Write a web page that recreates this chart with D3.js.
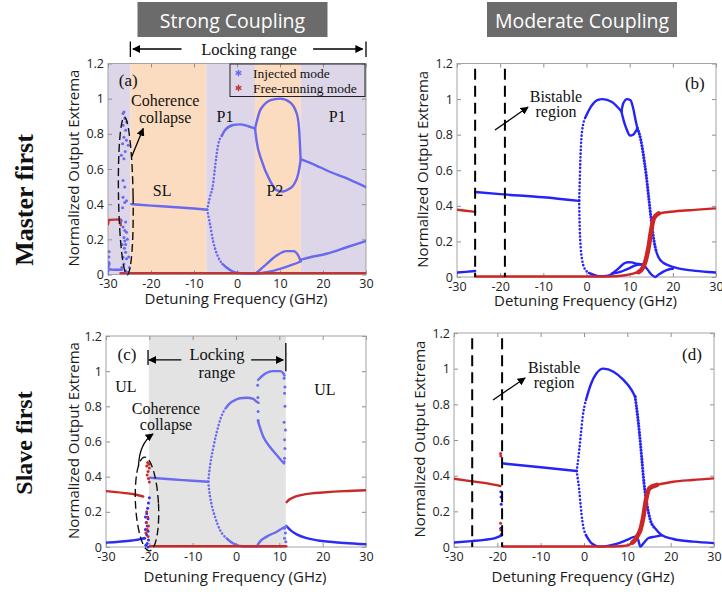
<!DOCTYPE html>
<html>
<head>
<meta charset="utf-8">
<script src="https://cdn.jsdelivr.net/npm/d3@7"></script>
<style>
  body { margin: 0; background: #fff; }
  .serif { font-family: "Liberation Serif", "Times New Roman", serif; fill: #111; }
  .sans { font-family: "Open Sans", "Noto Sans", sans-serif; fill: #1a1a1a; }
</style>
</head>
<body>
<div id="fig"></div>
<script>
(function() {
  'use strict';

  const xTicks = [-30, -20, -10, 0, 10, 20, 30];
  const yTicks = [0, 0.2, 0.4, 0.6, 0.8, 1, 1.2];

  // ---- (a) strong coupling, master first ----
  const aBandEdges = [-30, -24.8, -7.1, 4.2, 14.8, 30];
  const aInjLeft = [[-29.7,0.03],[-29,0.028],[-28,0.027],[-26.8,0.027]];
  const aInjSpike = [[-30.1,0.0],[-30,0.02],[-29.9,0.045],[-29.85,0.07],[-29.8,0.1],[-29.75,0.13],[-29.7,0.06]];
  const aInjCC = [[-26.5,0.915],[-26.3,0.924],[-26.1,0.887],[-25.7,0.867],[-26.5,0.849],[-25.9,0.82],
    [-26.3,0.78],[-25.7,0.763],[-26.6,0.744],[-25.3,0.735],[-26.0,0.70],[-26.9,0.678],[-26.3,0.659],
    [-26.5,0.535],[-26.1,0.497],[-26.5,0.44],[-25.7,0.42],[-26.1,0.41],[-26.6,0.38],[-25.9,0.298],
    [-26.9,0.307],[-26.5,0.27],[-26.1,0.25],[-25.7,0.24],[-26.3,0.21],[-25.5,0.2],[-26.1,0.19],
    [-25.9,0.17],[-26.7,0.17],[-26.2,0.15],[-25.9,0.127],[-26.5,0.098],[-25.7,0.09],[-25.2,0.1],
    [-26.3,0.06],[-25.9,0.02],[-25.3,0.013],[-25.0,0.04],[-26.8,0.04]];
  const aInjSL = [[-24.6,0.4],[-20,0.392],[-15,0.384],[-10,0.375],[-8,0.371],[-6.95,0.368]];
  const aInjUpFlank = [[-6.95,0.368],[-6.3,0.44],[-5.55,0.516],[-5.16,0.6],[-4.4,0.735],[-3.5,0.79]];
  const aInjUp = [[-3.5,0.79],[-2.8,0.82],[-0.9,0.85],[0.7,0.854],[2.6,0.843],[3.6,0.835],[4.2,0.83]];
  const aP2UpTop = [[4.2,0.83],[5.3,0.93],[6.3,0.965],[7.65,0.99],[10,1.0],[12.3,0.98],[13.9,0.915],[14.4,0.84],[14.6,0.76],[14.8,0.65]];
  const aP2UpBot = [[4.2,0.83],[4.55,0.76],[5.7,0.65],[7.65,0.535],[9.2,0.48],[10.75,0.472],[12,0.485],[13.1,0.507],[14.25,0.573],[14.8,0.65]];
  const aInjUpRight = [[14.9,0.655],[17,0.635],[19.3,0.61],[22,0.58],[24.7,0.555],[27.5,0.525],[30,0.497]];
  const aInjLowFlank = [[-6.95,0.368],[-6.3,0.29],[-5.55,0.19],[-4.4,0.1],[-3.4,0.06]];
  const aInjLow = [[-3.4,0.06],[-2.44,0.04],[-1.2,0.02],[-0.1,0.01],[2,0.005],[4.2,0.004]];
  const aP2LowTop = [[4.2,0.004],[5.5,0.03],[6.9,0.06],[9.2,0.108],[11.5,0.133],[13.1,0.133],[14.25,0.108],[14.8,0.075]];
  const aP2LowBot = [[4.2,0.004],[6.9,0.013],[10,0.032],[12.3,0.051],[14.25,0.068],[14.8,0.075]];
  const aInjLowRight = [[14.9,0.085],[17,0.098],[20.8,0.118],[25.5,0.155],[30,0.19]];
  const aFreeLeft = [[-30,0.285],[-29.8,0.31],[-28.5,0.312],[-27.1,0.313],[-27.05,0.28]];
  const aFreeBottom = [[-27.1,0.008],[30,0.008]];

  // ---- (b) moderate coupling, master first ----
  const bInjLeft = [[-30,0.025],[-28,0.029],[-25.8,0.034]];
  const bInjSS = [[-25.8,0.478],[-20,0.466],[-10,0.448],[-1.7,0.428]];
  const bInjUpFlank = [[-1.7,0.43],[-1.55,0.544],[-1.45,0.638],[-1.3,0.73],[-1.0,0.825],[-0.2,0.9]];
  const bInjUp = [[-0.2,0.9],[1.0,0.956],[2.5,0.994],[3.7,1.0],[5.9,0.984],[7.5,0.947],[8.1,0.93]];
  const bBumpTop = [[8.1,0.93],[8.5,0.975],[9.4,1.0],[10.2,0.994],[10.8,0.95],[11.3,0.89],[11.8,0.835]];
  const bBumpBot = [[8.1,0.93],[8.6,0.88],[9.3,0.83],[10.1,0.795],[10.8,0.8],[11.8,0.835]];
  const bInjDrop = [[11.8,0.835],[12.5,0.78],[12.9,0.73],[13.4,0.65],[13.8,0.58],[14.4,0.45],[15.0,0.32],[15.6,0.21],[16.2,0.14]];
  const bInjTail = [[16.2,0.14],[16.7,0.11],[17.8,0.08],[19,0.065],[21,0.05],[24.4,0.037],[28.2,0.028],[30,0.025]];
  const bInjLowFlank = [[-1.7,0.43],[-1.65,0.357],[-1.55,0.263],[-1.35,0.169],[-1.0,0.094],[-0.6,0.056],[0.55,0.023]];
  const bInjLow = [[0.55,0.023],[2.9,0.005],[5,0.008],[6,0.02]];
  const bLoopTop = [[6,0.02],[7.5,0.05],[8.6,0.075],[9.6,0.083],[10.5,0.082],[11.5,0.075],[12.5,0.072],[13.3,0.068]];
  const bLoopBot = [[6,0.02],[8,0.03],[9,0.04],[10,0.05],[11,0.062],[12.5,0.07],[13.3,0.068]];
  const bDip = [[13.3,0.068],[14.2,0.04],[15,0.015],[15.9,0.0],[16.8,0.015],[17.8,0.03],[19,0.042],[20,0.046]];
  const bFreeLeft = [[-30,0.378],[-28,0.372],[-25.8,0.366]];
  const bFreeMain = [[-25.8,0.003],[-10,0.003],[5,0.003],[9,0.01],[11,0.02],[12.1,0.028]];
  const bFreeRise = [[12.1,0.028],[13,0.05],[13.6,0.084],[14.4,0.17],[15,0.263],[15.6,0.33],[16.7,0.357]];
  const bFreeRight = [[16.7,0.357],[19,0.365],[22,0.372],[25,0.377],[30,0.386]];

  // ---- (c) strong coupling, slave first ----
  const cBand = [-20.1, 11.5];
  const cInjLeft = [[-30,0.025],[-27,0.03],[-24,0.037],[-22,0.045],[-21.2,0.05]];
  const cFreeLeft = [[-30,0.318],[-26,0.308],[-23,0.297],[-21.4,0.287]];
  const cInjCC = [[-20.0,0.28],[-20.2,0.25],[-20.4,0.22],[-20.6,0.19],[-20.9,0.17],[-20.3,0.16],
    [-20.7,0.14],[-20.5,0.12],[-20.9,0.1],[-20.3,0.09],[-20.6,0.07],[-21.1,0.05],[-20.2,0.04],
    [-20.5,0.02],[-20.8,0.01],[-20.3,0.0]];
  const cFreeCC = [[-20.4,0.48],[-20.1,0.47],[-20.6,0.46],[-20.0,0.45],[-20.3,0.43],[-20.5,0.41],
    [-20.2,0.39],[-20.0,0.37],[-20.6,0.2],[-20.4,0.17],[-20.7,0.14],[-20.2,0.12],[-20.5,0.1],
    [-20.8,0.08],[-20.3,0.06]];
  const cInjSL = [[-19.8,0.394],[-15,0.385],[-10,0.377],[-6.4,0.371]];
  const cInjUpFlank = [[-6.4,0.371],[-6.2,0.42],[-5.9,0.476],[-5.2,0.57],[-4.5,0.647],[-3.4,0.741],[-2.2,0.795]];
  const cInjUp = [[-2.2,0.795],[-1.45,0.817],[0,0.838],[0.9,0.846],[2.5,0.849],[4,0.842],[4.8,0.826],[5.2,0.82]];
  const cInjJump = [[5.0,0.92],[5.05,0.85],[5.1,0.77],[5.1,0.72]];
  const cLoopTop = [[5.1,0.95],[6.3,0.978],[8.6,1.0],[10.2,1.0],[10.9,0.988],[11.2,0.975]];
  const cLoopBot = [[5.1,0.713],[6.3,0.627],[7.8,0.57],[9.4,0.523],[10.7,0.485],[11.1,0.475]];
  const cInjEdge = [[11.1,0.96],[11.3,0.91],[11.2,0.875],[11.3,0.8],[11.1,0.71],[11.4,0.665],[11.2,0.61],
    [11.3,0.56],[11.2,0.505],[11.1,0.485],[11.2,0.106],[11.4,0.08],[11.2,0.05],[11.5,0.03],[11.6,0.12]];
  const cInjLowFlank = [[-6.4,0.371],[-6.2,0.324],[-5.7,0.249],[-4.85,0.172],[-3.7,0.097],[-2.15,0.049]];
  const cInjLow = [[-2.15,0.049],[-1,0.025],[0.15,0.011],[1.5,0.004],[3.2,0.002],[5,0.004],[8,0.004],[11.3,0.005]];
  const cLowRise = [[4.8,0.004],[5.5,0.03],[7.1,0.059],[9.4,0.087],[11.1,0.112]];
  const cInjRight = [[11.8,0.115],[12.5,0.097],[14,0.072],[16.3,0.05],[19,0.037],[21.7,0.03],[25,0.023],[30,0.016]];
  const cFreeMid = [[-19.8,0.004],[11.6,0.004]];
  const cFreeRight = [[11.7,0.255],[12.3,0.27],[13.5,0.285],[15,0.295],[17.5,0.305],[20,0.31],[25,0.318],[30,0.323]];

  // ---- (d) moderate coupling, slave first ----
  const bistableEdges = [-25.8, -18.9];
  const dInjLeft = [[-30,0.025],[-26,0.033],[-23,0.04],[-20.5,0.05],[-19.2,0.062]];
  const dFreeLeft = [[-30,0.383],[-25.8,0.368],[-22,0.355],[-19.3,0.342]];
  const dJumpInj = [[-19.2,0.31],[-19.15,0.28],[-19.1,0.24],[-19.2,0.105],[-19.1,0.07]];
  const dJumpFree = [[-19.25,0.525],[-19.2,0.51],[-19.25,0.133],[-19.2,0.095]];
  const dInjSS = [[-18.6,0.468],[-10,0.447],[-1.7,0.426]];
  const dInjUpFlank = [[-1.7,0.426],[-1.5,0.46],[-1.1,0.544],[-0.7,0.638],[-0.3,0.73],[0.45,0.824]];
  const dInjUp = [[0.45,0.824],[1.4,0.9],[2.9,0.974],[4.45,1.0],[6.8,0.983],[9.1,0.937],[11.0,0.88],[11.8,0.843]];
  const dInjDrop = [[11.8,0.843],[12.3,0.75],[12.8,0.638],[13.3,0.506],[13.85,0.357],[14.5,0.245],[15.2,0.161],[16.4,0.105]];
  const dInjTail = [[16.4,0.105],[17.9,0.067],[20.6,0.045],[25.2,0.03],[30,0.022]];
  const dInjLowFlank = [[-1.7,0.426],[-1.5,0.394],[-1.1,0.32],[-0.75,0.226],[-0.3,0.133],[0.45,0.067]];
  const dInjLow = [[0.45,0.067],[1.8,0.02],[3.7,0.002],[5.5,0.006],[7.5,0.017],[10.2,0.043],[11.8,0.058],
    [12.5,0.04],[13,0.002],[13.7,0.02],[14.8,0.049],[16.4,0.058],[17.9,0.065]];
  const dFreeMid = [[-18.7,0.003],[5,0.003],[9,0.006],[10.2,0.01],[11.2,0.025]];
  const dFreeRise = [[11.2,0.025],[11.8,0.04],[12.4,0.065],[13,0.095],[13.7,0.17],[14.3,0.263],[15.1,0.33],[16.8,0.348]];
  const dFreeRight = [[16.8,0.348],[20.6,0.366],[25,0.376],[30,0.385]];

  const W = 722, H = 592;
  const SANS = '"Open Sans", "Noto Sans", sans-serif';

  const svg = d3.select('#fig').append('svg')
    .attr('width', W).attr('height', H)
    .attr('viewBox', `0 0 ${W} ${H}`);

  const defs = svg.append('defs');
  defs.append('marker')
    .attr('id', 'head')
    .attr('viewBox', '0 0 10 10')
    .attr('refX', 9).attr('refY', 5)
    .attr('markerWidth', 8).attr('markerHeight', 8)
    .attr('markerUnits', 'userSpaceOnUse')
    .attr('orient', 'auto')
    .append('path').attr('d', 'M0,0 L10,5 L0,10 z').attr('fill', '#000');

  const panels = [
    {
      id: 'a', box: [108, 366, 63.5, 274.5], xTitleY: 298, inj: '#6969f0', free: '#c43434',
      bands: aBandEdges, bandFills: ['#dcd6e8', '#fbdcc0'],
      lines: [
        [aInjLeft], [aInjSL], [aInjUpFlank, 'inj', 'dot'], [aInjUp], [aP2UpTop], [aP2UpBot],
        [aInjUpRight], [aInjLowFlank, 'inj', 'dot'], [aInjLow], [aP2LowTop], [aP2LowBot],
        [aInjLowRight], [aFreeLeft, 'free', 'solid', 'lin'], [aFreeBottom, 'free']
      ],
      points: [[aInjSpike, 'inj'], [aInjCC, 'inj']],
      ellipse: { c: [-25.86, 0.4465], r: [1.7, 0.449], rot: -1 },
      labels: [
        ['(a)', -25.3, 1.106, 17], ['Coherence', -16.7, 0.99, 16], ['collapse', -16.7, 0.895, 16],
        ['P1', -2.8, 0.896, 16], ['SL', -17.4, 0.48, 16], ['P2', 8.8, 0.48, 16], ['P1', 23.3, 0.896, 16]
      ],
      arrows: [[-24.5, 0.67, -21.8, 0.83]],
      legend: true,
      title: 'Strong Coupling'
    },
    {
      id: 'b', box: [457, 716, 63.5, 277], xTitleY: 300, inj: '#2424f8', free: '#cc2626',
      vlines: bistableEdges,
      lines: [
        [bInjLeft], [bInjSS], [bInjUpFlank, 'inj', 'dot'], [bInjUp], [bBumpTop], [bBumpBot],
        [bInjDrop, 'inj', 'bigdot'], [bInjTail], [bInjLowFlank, 'inj', 'dot'], [bInjLow],
        [bLoopTop], [bLoopBot], [bDip],
        [bFreeLeft, 'free'], [bFreeMain, 'free'], [bFreeRise, 'free', 'thick'], [bFreeRight, 'free']
      ],
      points: [],
      labels: [
        ['(b)', 25.1, 1.09, 17], ['Bistable', -7.07, 1.012, 16], ['region', -7.07, 0.928, 16]
      ],
      arrows: [[-21.2, 0.826, -13.55, 0.955]],
      title: 'Moderate Coupling'
    },
    {
      id: 'c', box: [106, 366, 336, 547], xTitleY: 576, inj: '#6b6bf0', free: '#c82a2a',
      grayBand: cBand,
      lines: [
        [cInjLeft, 'inj2'], [cFreeLeft, 'free'], [cInjSL], [cInjUpFlank, 'inj', 'dot'], [cInjUp],
        [cLoopTop], [cLoopBot], [cInjLowFlank, 'inj', 'dot'], [cInjLow], [cLowRise],
        [cInjRight, 'inj2'], [cFreeMid, 'free'], [cFreeRight, 'free']
      ],
      points: [[cInjCC, 'inj2'], [cFreeCC, 'free'], [cInjJump, 'inj'], [cInjEdge, 'inj']],
      ellipse: { c: [-20.54, 0.2446], r: [2.65, 0.267], rot: -3 },
      labels: [
        ['(c)', -25.15, 1.092, 17], ['Locking', -4.4, 1.092, 16.5], ['range', -4.4, 0.995, 16.5],
        ['UL', -25.4, 0.91, 16], ['UL', 20.5, 0.893, 16],
        ['Coherence', -16.15, 0.79, 16], ['collapse', -16.15, 0.694, 16]
      ],
      arrows: [[-12.6, 1.064, -20.1, 1.064], [3.5, 1.064, 10.9, 1.064]],
      curved: [[-22.5, 0.461, -19.15, 0.643, -22.3, 0.59]],
      bars: [[-20.3, 1.035, 1.12], [11.5, 1.0, 1.16]]
    },
    {
      id: 'd', box: [454, 714, 333, 547], xTitleY: 576, inj: '#2424f8', free: '#cc2626',
      vlines: bistableEdges,
      lines: [
        [dInjLeft], [dFreeLeft, 'free'], [dInjSS], [dInjUpFlank, 'inj', 'dot'], [dInjUp],
        [dInjDrop, 'inj', 'bigdot'], [dInjTail], [dInjLowFlank, 'inj', 'dot'], [dInjLow],
        [dFreeMid, 'free'], [dFreeRise, 'free', 'thick'], [dFreeRight, 'free']
      ],
      points: [[dJumpInj, 'inj'], [dJumpFree, 'free']],
      labels: [
        ['(d)', 24.9, 1.077, 17], ['Bistable', -6.9, 1.004, 16], ['region', -6.9, 0.92, 16]
      ],
      arrows: [[-21.0, 0.824, -13.6, 0.948]]
    }
  ];

  const strokeStyles = {
    solid: { w: 2.4 },
    dot: { w: 2.6, dash: '0 3.6' },
    bigdot: { w: 3.2, dash: '0 3' },
    thick: { w: 4.6 }
  };

  const drawPanel = (p) => {
    const [x0, x1, y0, y1] = p.box;
    const x = d3.scaleLinear().domain([-30, 30]).range([x0, x1]);
    const y = d3.scaleLinear().domain([0, 1.2]).range([y1, y0]);
    const g = svg.append('g').attr('class', 'panel-' + p.id);

    defs.append('clipPath').attr('id', 'clip-' + p.id)
      .append('rect').attr('x', x0).attr('y', y0 - 2).attr('width', x1 - x0).attr('height', y1 - y0 + 4);

    // background regions
    if (p.bands) {
      g.selectAll('rect.band')
        .data(d3.pairs(p.bands))
        .enter().append('rect')
          .attr('class', 'band')
          .attr('x', d => x(d[0]))
          .attr('y', y0)
          .attr('width', d => x(d[1]) - x(d[0]))
          .attr('height', y1 - y0)
          .attr('fill', (d, i) => p.bandFills[i % 2]);
    }
    if (p.grayBand) {
      g.append('rect')
        .attr('x', x(p.grayBand[0])).attr('y', y0)
        .attr('width', x(p.grayBand[1]) - x(p.grayBand[0]))
        .attr('height', y1 - y0)
        .attr('fill', '#e3e3e3');
    }

    // axes
    const styleAxis = sel => {
      sel.select('.domain').remove();
      sel.selectAll('.tick line').attr('stroke', '#8f8f8f');
      sel.selectAll('.tick text')
        .attr('fill', '#222')
        .style('font-family', SANS)
        .style('font-size', '12.5px');
    };
    g.append('g').attr('transform', `translate(0,${y1})`)
      .call(d3.axisBottom(x).tickValues(xTicks).tickSize(-4).tickPadding(5).tickFormat(d => String(d)))
      .call(styleAxis);
    g.append('g').attr('transform', `translate(0,${y0})`)
      .call(d3.axisTop(x).tickValues(xTicks).tickSize(-4).tickFormat(''))
      .call(styleAxis);
    g.append('g').attr('transform', `translate(${x0},0)`)
      .call(d3.axisLeft(y).tickValues(yTicks).tickSize(-4).tickPadding(4).tickFormat(d3.format('~g')))
      .call(styleAxis);
    g.append('g').attr('transform', `translate(${x1},0)`)
      .call(d3.axisRight(y).tickValues(yTicks).tickSize(-4).tickFormat(''))
      .call(styleAxis);
    g.append('rect')
      .attr('x', x0).attr('y', y0).attr('width', x1 - x0).attr('height', y1 - y0)
      .attr('fill', 'none').attr('stroke', '#a3a3a3').attr('stroke-width', 1);

    // data
    const data = g.append('g').attr('clip-path', `url(#clip-${p.id})`);
    const colorOf = k => k === 'free' ? p.free : (k === 'inj2' ? '#2e2ef2' : p.inj);

    p.lines.forEach(([arr, kind = 'inj', style = 'solid', curve = 'mono']) => {
      const st = strokeStyles[style];
      const line = d3.line()
        .x(d => x(d[0]))
        .y(d => y(d[1]))
        .curve(curve === 'lin' ? d3.curveLinear : d3.curveMonotoneX);
      data.append('path')
        .datum(arr)
        .attr('d', line)
        .attr('fill', 'none')
        .attr('stroke', colorOf(kind))
        .attr('stroke-width', st.w)
        .attr('stroke-linecap', 'round')
        .attr('stroke-linejoin', 'round')
        .attr('stroke-dasharray', st.dash || null);
    });

    p.points.forEach(([arr, kind]) => {
      data.append('g').selectAll('circle')
        .data(arr)
        .enter().append('circle')
          .attr('cx', d => x(d[0]))
          .attr('cy', d => y(d[1]))
          .attr('r', 1.5)
          .attr('fill', colorOf(kind));
    });

    // annotations
    if (p.vlines) {
      g.selectAll('line.vl')
        .data(p.vlines)
        .enter().append('line')
          .attr('x1', d => x(d)).attr('x2', d => x(d))
          .attr('y1', y(1.17)).attr('y2', y(0))
          .attr('stroke', '#000').attr('stroke-width', 2)
          .attr('stroke-dasharray', '11 6');
    }

    if (p.ellipse) {
      const e = p.ellipse,
            cx = x(e.c[0]), cy = y(e.c[1]);
      g.append('ellipse')
        .attr('cx', cx).attr('cy', cy)
        .attr('rx', x(e.c[0] + e.r[0]) - cx)
        .attr('ry', cy - y(e.c[1] + e.r[1]))
        .attr('transform', `rotate(${e.rot},${cx},${cy})`)
        .attr('fill', 'none').attr('stroke', '#111')
        .attr('stroke-width', 1.4).attr('stroke-dasharray', '8 4');
    }

    (p.arrows || []).forEach(a => {
      g.append('line')
        .attr('x1', x(a[0])).attr('y1', y(a[1]))
        .attr('x2', x(a[2])).attr('y2', y(a[3]))
        .attr('stroke', '#000').attr('stroke-width', 1.3)
        .attr('marker-end', 'url(#head)');
    });

    (p.curved || []).forEach(a => {
      g.append('path')
        .attr('d', `M${x(a[0])},${y(a[1])} Q${x(a[4])},${y(a[5])} ${x(a[2])},${y(a[3])}`)
        .attr('fill', 'none')
        .attr('stroke', '#000').attr('stroke-width', 1.3)
        .attr('marker-end', 'url(#head)');
    });

    (p.bars || []).forEach(b => {
      g.append('line')
        .attr('x1', x(b[0])).attr('x2', x(b[0]))
        .attr('y1', y(b[1])).attr('y2', y(b[2]))
        .attr('stroke', '#000').attr('stroke-width', 1.3);
    });

    g.selectAll('text.lab')
      .data(p.labels)
      .enter().append('text')
        .attr('class', 'serif')
        .attr('x', d => x(d[1]))
        .attr('y', d => y(d[2]))
        .attr('text-anchor', 'middle')
        .attr('dominant-baseline', 'central')
        .style('font-size', d => d[3] + 'px')
        .text(d => d[0]);

    if (p.legend) {
      const lx = x1 - 136, ly = y0 + 0.5;
      g.append('rect')
        .attr('x', lx).attr('y', ly).attr('width', 135).attr('height', 32.5)
        .attr('fill', 'none').attr('stroke', '#222').attr('stroke-width', 1);
      const entries = [['Injected mode', p.inj], ['Free-running mode', p.free]];
      entries.forEach((en, i) => {
        const cy = ly + 9 + i * 15;
        g.append('path')
          .attr('d', d3.symbol(d3.symbolAsterisk, 30)())
          .attr('transform', `translate(${lx + 8.5},${cy})`)
          .attr('fill', 'none').attr('stroke', en[1]).attr('stroke-width', 1.4);
        g.append('text')
          .attr('class', 'serif')
          .attr('x', lx + 23).attr('y', cy)
          .attr('dominant-baseline', 'central')
          .style('font-size', '13.5px')
          .text(en[0]);
      });
    }

    // axis titles
    const yTitleX = (p.id === 'b' || p.id === 'd') ? x0 - 35 : 73;
    g.append('text')
      .attr('class', 'sans')
      .attr('transform', `translate(${yTitleX},${(y0 + y1) / 2 - 1}) rotate(-90)`)
      .attr('text-anchor', 'middle')
      .attr('dominant-baseline', 'central')
      .style('font-size', '15px')
      .text('Normalized Output Extrema');
    g.append('text')
      .attr('class', 'sans')
      .attr('x', (x0 + x1) / 2 - 1)
      .attr('y', p.xTitleY)
      .attr('text-anchor', 'middle')
      .attr('dominant-baseline', 'central')
      .style('font-size', '15px')
      .text('Detuning Frequency (GHz)');

    if (p.title) {
      const cx = (x0 + x1) / 2 - 4.5;
      g.append('rect')
        .attr('x', cx - 95).attr('y', 2).attr('width', 190).attr('height', 35)
        .attr('fill', '#6b6b6b');
      g.append('text')
        .attr('class', 'sans')
        .attr('x', cx).attr('y', 20)
        .attr('text-anchor', 'middle')
        .attr('dominant-baseline', 'central')
        .style('font-size', '19.5px')
        .style('fill', '#fff')
        .text(p.title);
    }

    // locking range header above (a)
    if (p.id === 'a') {
      const top = g.append('g');
      [-24.8, 30].forEach(v => {
        top.append('line')
          .attr('x1', x(v)).attr('x2', x(v)).attr('y1', 41.5).attr('y2', 57)
          .attr('stroke', '#000').attr('stroke-width', 1.3);
      });
      [[-12.9, -24.2], [17.7, 29.2]].forEach(s => {
        top.append('line')
          .attr('x1', x(s[0])).attr('x2', x(s[1])).attr('y1', 49).attr('y2', 49)
          .attr('stroke', '#000').attr('stroke-width', 1.3)
          .attr('marker-end', 'url(#head)');
      });
      top.append('text')
        .attr('class', 'serif')
        .attr('x', x(2.8)).attr('y', 49)
        .attr('text-anchor', 'middle')
        .attr('dominant-baseline', 'central')
        .style('font-size', '16.5px')
        .text('Locking range');
    }
  };

  panels.forEach(drawPanel);

  // row titles
  [['Master first', 200, 26], ['Slave first', 443, 24]].forEach(r => {
    svg.append('text')
      .attr('class', 'serif')
      .attr('transform', `translate(24,${r[1]}) rotate(-90)`)
      .attr('text-anchor', 'middle')
      .attr('dominant-baseline', 'central')
      .style('font-size', r[2] + 'px')
      .style('font-weight', 'bold')
      .text(r[0]);
  });

})();
</script>
</body>
</html>
